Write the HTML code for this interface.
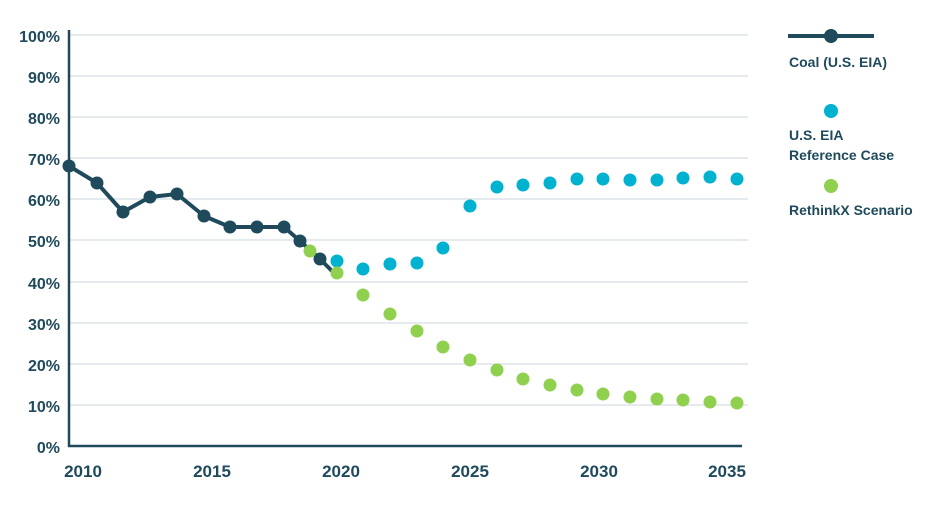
<!DOCTYPE html>
<html><head><meta charset="utf-8"><style>
html,body{margin:0;padding:0;background:#fff;}
svg{display:block;}
text{font-family:"Liberation Sans",Arial,sans-serif;font-weight:bold;fill:#1e4a5c;}
</style></head><body>
<svg width="948" height="507" viewBox="0 0 948 507">
<g stroke="#c9d4db" stroke-width="1">
<line x1="69" x2="748" y1="35" y2="35"/><line x1="69" x2="748" y1="76" y2="76"/>
<line x1="69" x2="748" y1="117" y2="117"/><line x1="69" x2="748" y1="158" y2="158"/>
<line x1="69" x2="748" y1="199" y2="199"/><line x1="69" x2="748" y1="240" y2="240"/>
<line x1="69" x2="748" y1="282" y2="282"/><line x1="69" x2="748" y1="323" y2="323"/>
<line x1="69" x2="748" y1="364" y2="364"/><line x1="69" x2="748" y1="405" y2="405"/>
</g>
<line x1="69" y1="30" x2="69" y2="447" stroke="#1e4a5c" stroke-width="2.5"/>
<line x1="68" y1="446" x2="742" y2="446" stroke="#1e4a5c" stroke-width="2.5"/>
<g font-size="16" text-anchor="end">
<text x="60" y="42">100%</text><text x="60" y="83">90%</text><text x="60" y="124">80%</text>
<text x="60" y="165">70%</text><text x="60" y="206">60%</text><text x="60" y="247">50%</text>
<text x="60" y="289">40%</text><text x="60" y="330">30%</text><text x="60" y="371">20%</text>
<text x="60" y="412">10%</text><text x="60" y="453">0%</text>
</g>
<g font-size="17" text-anchor="middle">
<text x="83" y="477">2010</text><text x="212" y="477">2015</text><text x="341" y="477">2020</text>
<text x="470" y="477">2025</text><text x="599" y="477">2030</text><text x="727" y="477">2035</text>
</g>
<polyline fill="none" stroke="#1e4a5c" stroke-width="4" stroke-linejoin="round"
points="69,166 97,183 123,212 150,197 177,194 204,216 230,227 257,227 284,227 300,241 320,259 334,273"/>
<g fill="#1e4a5c">
<circle cx="69" cy="166" r="6.5"/><circle cx="97" cy="183" r="6.5"/><circle cx="123" cy="212" r="6.5"/>
<circle cx="150" cy="197" r="6.5"/><circle cx="177" cy="194" r="6.5"/><circle cx="204" cy="216" r="6.5"/>
<circle cx="230" cy="227" r="6.5"/><circle cx="257" cy="227" r="6.5"/><circle cx="284" cy="227" r="6.5"/>
<circle cx="300" cy="241" r="6.5"/><circle cx="320" cy="259" r="6.5"/>
</g>
<g fill="#00b2cf">
<circle cx="337" cy="261" r="6.5"/><circle cx="363" cy="269" r="6.5"/><circle cx="390" cy="264" r="6.5"/>
<circle cx="417" cy="263" r="6.5"/><circle cx="443" cy="248" r="6.5"/><circle cx="470" cy="206" r="6.5"/>
<circle cx="497" cy="187" r="6.5"/><circle cx="523" cy="185" r="6.5"/><circle cx="550" cy="183" r="6.5"/>
<circle cx="577" cy="179" r="6.5"/><circle cx="603" cy="179" r="6.5"/><circle cx="630" cy="180" r="6.5"/>
<circle cx="657" cy="180" r="6.5"/><circle cx="683" cy="178" r="6.5"/><circle cx="710" cy="177" r="6.5"/>
<circle cx="737" cy="179" r="6.5"/>
</g>
<g fill="#8fd14f">
<circle cx="310" cy="251" r="6.5"/><circle cx="337" cy="273" r="6.5"/><circle cx="363" cy="295" r="6.5"/>
<circle cx="390" cy="314" r="6.5"/><circle cx="417" cy="331" r="6.5"/><circle cx="443" cy="347" r="6.5"/>
<circle cx="470" cy="360" r="6.5"/><circle cx="497" cy="370" r="6.5"/><circle cx="523" cy="379" r="6.5"/>
<circle cx="550" cy="385" r="6.5"/><circle cx="577" cy="390" r="6.5"/><circle cx="603" cy="394" r="6.5"/>
<circle cx="630" cy="397" r="6.5"/><circle cx="657" cy="399" r="6.5"/><circle cx="683" cy="400" r="6.5"/>
<circle cx="710" cy="402" r="6.5"/><circle cx="737" cy="403" r="6.5"/>
</g>
<line x1="788" y1="36" x2="874" y2="36" stroke="#1e4a5c" stroke-width="4"/>
<circle cx="831" cy="36" r="7" fill="#1e4a5c"/>
<g font-size="14">
<text x="789" y="67">Coal (U.S. EIA)</text>
<text x="789" y="140">U.S. EIA</text>
<text x="789" y="160">Reference Case</text>
<text x="789" y="215">RethinkX Scenario</text>
</g>
<circle cx="831" cy="111" r="7" fill="#00b2cf"/>
<circle cx="831" cy="186" r="7" fill="#8fd14f"/>
</svg>
</body></html>
